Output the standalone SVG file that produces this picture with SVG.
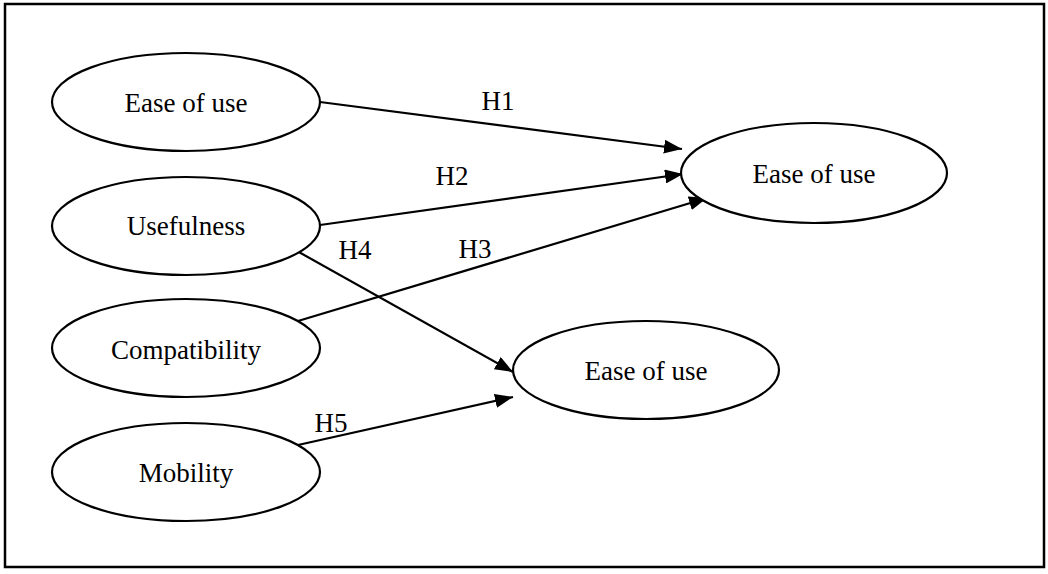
<svg xmlns="http://www.w3.org/2000/svg" width="1048" height="574" viewBox="0 0 1048 574">
<style>
.node ellipse{fill:#fff;stroke:#000;stroke-width:2.2}
.node text, .lbl{font-family:"Liberation Serif","Times New Roman",serif;font-size:27px;fill:#000;text-anchor:middle}
.edge{stroke:#000;stroke-width:2.2;fill:none;marker-end:url(#ah)}
</style>
<defs>
<marker id="ah" markerUnits="userSpaceOnUse" markerWidth="18" markerHeight="14" refX="18" refY="7" orient="auto">
<path d="M0,0 L18,7 L0,14 z" fill="#000"/>
</marker>
</defs>
<rect x="0" y="0" width="1048" height="574" fill="#fff"/>
<rect x="5" y="4" width="1039" height="563" fill="none" stroke="#000" stroke-width="2.5"/>
<g id="connectors">
<line class="edge" x1="320" y1="102" x2="682" y2="149"/>
<line class="edge" x1="320" y1="225" x2="683" y2="174"/>
<line class="edge" x1="298" y1="321" x2="707" y2="198"/>
<line class="edge" x1="297" y1="251" x2="513" y2="372"/>
<line class="edge" x1="298" y1="445" x2="513" y2="397"/>
<text class="lbl" x="498" y="110">H1</text>
<text class="lbl" x="452" y="185">H2</text>
<text class="lbl" x="475" y="258">H3</text>
<text class="lbl" x="355" y="259">H4</text>
<text class="lbl" x="331" y="432">H5</text>
</g>
<g id="n1" class="node"><ellipse cx="186" cy="102" rx="134" ry="49"/><text x="186" y="112">Ease of use</text></g>
<g id="n2" class="node"><ellipse cx="186" cy="226" rx="134" ry="49"/><text x="186" y="235">Usefulness</text></g>
<g id="n3" class="node"><ellipse cx="186" cy="348" rx="134" ry="49"/><text x="186" y="359">Compatibility</text></g>
<g id="n4" class="node"><ellipse cx="186" cy="472" rx="134" ry="49"/><text x="186" y="482">Mobility</text></g>
<g id="n5" class="node"><ellipse cx="814" cy="173" rx="133" ry="50"/><text x="814" y="183">Ease of use</text></g>
<g id="n6" class="node"><ellipse cx="646" cy="370" rx="133" ry="49"/><text x="646" y="380">Ease of use</text></g>
</svg>
